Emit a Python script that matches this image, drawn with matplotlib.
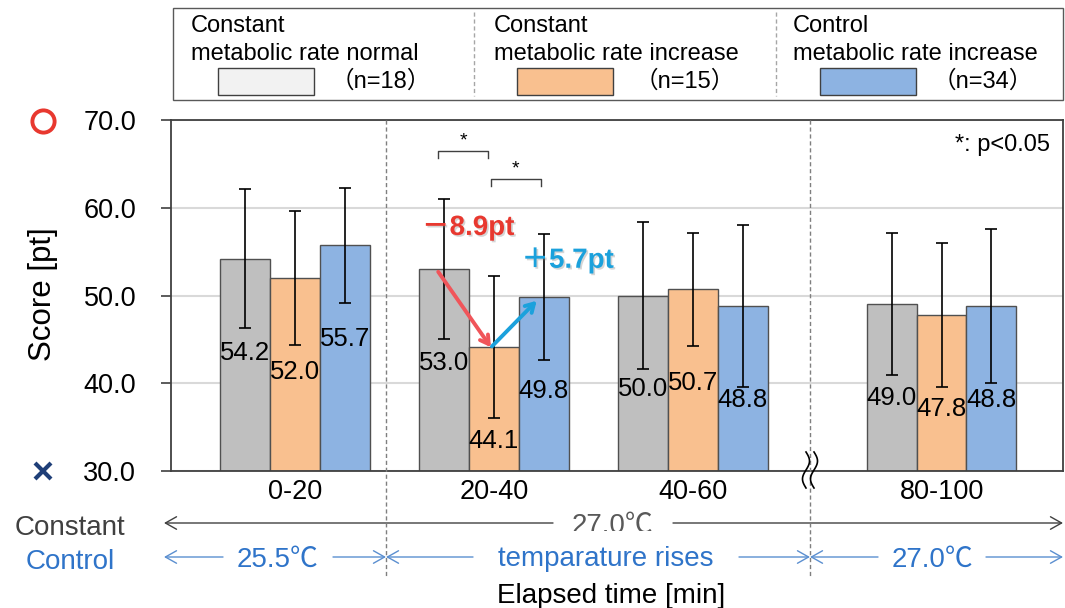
import matplotlib
matplotlib.use('Agg')
import matplotlib.pyplot as plt
import numpy as np
from matplotlib.patches import FancyArrowPatch, Rectangle, ArrowStyle
from matplotlib.lines import Line2D
from matplotlib.transforms import Affine2D, Bbox
import matplotlib.patheffects as pe

plt.rcParams['font.family'] = ['Liberation Sans', 'Noto Sans CJK JP', 'DejaVu Sans']

# ---------------- data ----------------
categories = ['0-20', '20-40', '40-60', '80-100']
series_title = ['Constant', 'Constant', 'Control']
series_sub = ['metabolic rate normal', 'metabolic rate increase', 'metabolic rate increase']
series_n = ['（n=18）', '（n=15）', '（n=34）']
normal_mean = [54.2, 53.0, 50.0, 49.0]
normal_sd = [7.9, 8.0, 8.4, 8.1]
increase_mean = [52.0, 44.1, 50.7, 47.8]
increase_sd = [7.6, 8.1, 6.4, 8.2]
control_mean = [55.7, 49.8, 48.8, 48.8]
control_sd = [6.5, 7.2, 9.2, 8.8]
yticks = [30, 40, 50, 60, 70]
diff_down = '－8.9pt'
diff_up = '＋5.7pt'

colors = ['#bfbfbf', '#f9c08f', '#8db3e2']
legend_colors = ['#f2f2f2', '#f9c08f', '#8db3e2']
means = [normal_mean, increase_mean, control_mean]
sds = [normal_sd, increase_sd, control_sd]

W, H = 1065, 608
fig = plt.figure(figsize=(W / 100, H / 100), dpi=100)
pix = Affine2D().scale(1 / W, -1 / H).translate(0, 1) + fig.transFigure

ax = fig.add_axes([171 / W, 1 - 471 / H, (1063 - 171) / W, (471 - 120) / H])
xpos = np.array([0, 1, 2, 3.25])
bw = 0.25
for i in range(3):
    xs = xpos + (i - 1) * bw
    ax.bar(xs, np.array(means[i]) - 30, bw, bottom=30, color=colors[i],
           edgecolor='#505050', linewidth=1, zorder=2)
    ax.errorbar(xs, means[i], yerr=sds[i], fmt='none', ecolor='black',
                elinewidth=1.2, capsize=4, capthick=1.2, zorder=3)
    for x, v in zip(xs, means[i]):
        ax.text(x, v - 10.7, f'{v:.1f}', ha='center', va='center', fontsize=18.5, zorder=4)

ax.set_xlim(-0.623, 3.86)
ax.set_ylim(30, 70)
ax.set_yticks(yticks)
ax.set_yticklabels([f'{t:.1f}' for t in yticks])
ax.set_xticks(xpos)
ax.set_xticklabels(categories)
ax.tick_params(axis='y', length=7, width=1.2, color='#404040', pad=18, labelsize=19.5)
ax.tick_params(axis='x', length=0, pad=5.5, labelsize=19.5)
ax.yaxis.grid(True, color='#d9d9d9', lw=1.5)
ax.set_axisbelow(True)
for s in ax.spines.values():
    s.set_color('#404040')
    s.set_linewidth(1.3)

# significance brackets
for (x0, x1, yb, yl, ys) in [(0.72, 0.97, 66.5, 65.7, 67.6), (0.985, 1.235, 63.3, 62.5, 64.4)]:
    ax.plot([x0, x0, x1, x1], [yl, yb, yb, yl], color='#404040', lw=1, zorder=3)
    ax.text((x0 + x1) / 2, ys, '*', ha='center', va='center', fontsize=14)
ax.text(0.985, 0.93, '*: p<0.05', transform=ax.transAxes, ha='right', va='center', fontsize=17)

# difference arrows
ax.annotate('', xy=(0.985, 44.1), xytext=(0.72, 52.7),
            arrowprops=dict(arrowstyle='->,head_length=0.6,head_width=0.35', color='#f0555a', lw=2.8,
                            shrinkA=0, shrinkB=0), zorder=5)
ax.annotate('', xy=(1.215, 49.4), xytext=(0.99, 44.2),
            arrowprops=dict(arrowstyle='->,head_length=0.6,head_width=0.35', color='#1ba1dc', lw=2.8,
                            shrinkA=0, shrinkB=0), zorder=5)
shadow = [pe.withSimplePatchShadow(offset=(1.2, -1.2), shadow_rgbFace='#888888', alpha=0.35)]
ax.text(0.87, 57.7, diff_down, color='#e8382f', fontweight='bold', fontsize=20,
        ha='center', va='center', zorder=6, path_effects=shadow)
ax.text(1.37, 54.0, diff_up, color='#1ba1dc', fontweight='bold', fontsize=20,
        ha='center', va='center', zorder=6, path_effects=shadow)

# y label and markers
fig.text(43 / W, 1 - 294 / H, 'Score [pt]', rotation=90, ha='center', va='center', fontsize=22.5)
fig.add_artist(Line2D([43], [121], transform=pix, marker='o', ms=16, mfc='none',
                      mec='#e8382f', mew=2.8, ls='none'))
fig.add_artist(Line2D([43], [471], transform=pix, marker='x', ms=11, mec='#1f3f78',
                      mew=3, ls='none'))

# dashed vertical separators
for xv in [386, 810]:
    fig.add_artist(Line2D([xv, xv], [120, 578], transform=pix, color='#7f7f7f', lw=1,
                          dashes=(3, 2)))

# axis break symbol
t = np.linspace(0, 1, 60)
for off in (-4, 4):
    fig.add_artist(Line2D(810 + off + 3.5 * np.sin(2 * np.pi * t), 452 + 36 * t,
                          transform=pix, color='black', lw=1.2))

# legend box
fig.add_artist(Rectangle((173, 8), 890, 92, transform=pix, facecolor='white',
                         edgecolor='#595959', lw=1))
for xv in [474, 776]:
    fig.add_artist(Line2D([xv, xv], [12, 96], transform=pix, color='#a6a6a6', lw=1,
                          dashes=(3, 2)))
leg_x = [191, 494, 793]
patch_x = [218, 517, 820]
n_x = [431, 735, 1033]
for i in range(3):
    fig.text(leg_x[i] / W, 1 - 26 / H, series_title[i], ha='left', va='center', fontsize=17)
    fig.text(leg_x[i] / W, 1 - 54 / H, series_sub[i], ha='left', va='center', fontsize=17)
    fig.add_artist(Rectangle((patch_x[i], 68), 96, 27, transform=pix,
                             facecolor=legend_colors[i], edgecolor='#404040', lw=1))
    fig.text(n_x[i] / W, 1 - 81 / H, series_n[i], ha='right', va='center', fontsize=17)

# bottom annotation rows
def harrow(x0, x1, y, color, style):
    fig.add_artist(FancyArrowPatch((x0, y), (x1, y), transform=pix,
                                   arrowstyle=ArrowStyle(style, head_length=0.8, head_width=0.45),
                                   mutation_scale=10, color=color, lw=1, shrinkA=0, shrinkB=0))

gray = '#404040'
blue = '#2f74c9'
lblue = '#5b8fd0'
harrow(164, 553, 523, gray, '<-')
harrow(673, 1063, 523, gray, '->')
harrow(164, 223, 557, lblue, '<-')
harrow(333, 386, 557, lblue, '->')
harrow(386, 473, 557, lblue, '<-')
harrow(739, 810, 557, lblue, '->')
harrow(810, 878, 557, lblue, '<-')
harrow(986, 1063, 557, lblue, '->')

fig.text(70 / W, 1 - 535 / H, 'Constant', ha='center', va='baseline', fontsize=20, color=gray)
fig.text(70 / W, 1 - 569 / H, 'Control', ha='center', va='baseline', fontsize=20, color=blue)
tc = fig.text(612 / W, 1 - 533 / H, '27.0℃', ha='center', va='baseline', fontsize=20, color='#595959')
tc.set_clip_box(Bbox([[0, H - 531], [W, H]]))
tc.set_clip_on(True)
fig.text(277 / W, 1 - 567 / H, '25.5℃', ha='center', va='baseline', fontsize=20, color=blue)
fig.text(606 / W, 1 - 566 / H, 'temparature rises', ha='center', va='baseline', fontsize=20, color=blue)
fig.text(932 / W, 1 - 567 / H, '27.0℃', ha='center', va='baseline', fontsize=20, color=blue)
fig.text(611 / W, 1 - 603 / H, 'Elapsed time [min]', ha='center', va='baseline', fontsize=20)

fig.savefig('out.png', dpi=100)
